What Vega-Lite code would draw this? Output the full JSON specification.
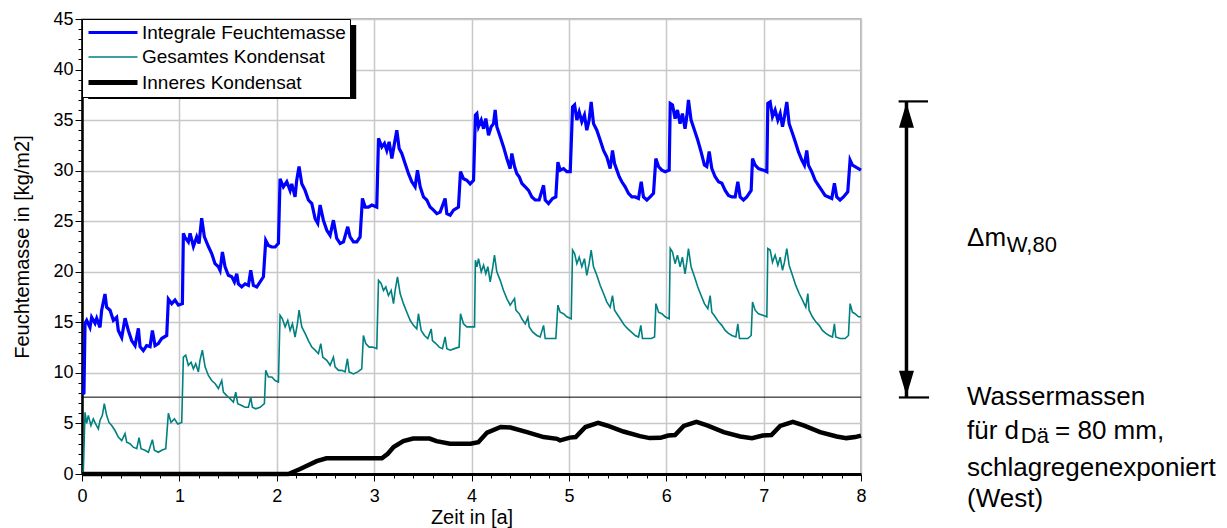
{
  "$schema": "https://vega.github.io/schema/vega-lite/v6.json",
  "width": 779,
  "height": 455,
  "autosize": {"type": "none"},
  "padding": {"left": 82, "top": 19, "right": 366, "bottom": 54},
  "background": "white",
  "datasets": {
    "blue": [
      {"t":0,"m":7.9},{"t":0.02,"m":8.0},{"t":0.031,"m":14.9},{"t":0.048,"m":15.2},{"t":0.082,"m":14.5},{"t":0.099,"m":15.5},{"t":0.134,"m":14.9},{"t":0.151,"m":15.4},{"t":0.185,"m":14.5},{"t":0.202,"m":16.2},{"t":0.236,"m":17.8},{"t":0.253,"m":16.5},{"t":0.288,"m":16.2},{"t":0.322,"m":15.2},{"t":0.356,"m":15.5},{"t":0.373,"m":14.2},{"t":0.408,"m":13.5},{"t":0.442,"m":15.4},{"t":0.476,"m":14.2},{"t":0.51,"m":13.2},{"t":0.545,"m":12.7},{"t":0.579,"m":14.4},{"t":0.596,"m":12.6},{"t":0.63,"m":12.2},{"t":0.664,"m":12.7},{"t":0.699,"m":12.6},{"t":0.723,"m":14.2},{"t":0.75,"m":12.7},{"t":0.784,"m":12.9},{"t":0.818,"m":13.4},{"t":0.87,"m":13.7},{"t":0.887,"m":17.3},{"t":0.921,"m":16.85},{"t":0.955,"m":17.2},{"t":0.99,"m":16.7},{"t":1.031,"m":16.85},{"t":1.041,"m":23.8},
      {"t":1.058,"m":23.4},{"t":1.092,"m":22.95},{"t":1.11,"m":23.8},{"t":1.144,"m":22.5},{"t":1.178,"m":23.45},{"t":1.202,"m":22.8},{"t":1.229,"m":25.3},{"t":1.257,"m":23.45},{"t":1.298,"m":22.5},{"t":1.332,"m":21.8},{"t":1.366,"m":20.8},{"t":1.401,"m":20.5},{"t":1.418,"m":20.15},{"t":1.442,"m":21.95},{"t":1.469,"m":20.5},{"t":1.503,"m":19.65},{"t":1.538,"m":19.5},{"t":1.565,"m":19.0},{"t":1.589,"m":19.8},{"t":1.606,"m":18.8},{"t":1.64,"m":18.5},{"t":1.675,"m":18.8},{"t":1.709,"m":18.65},{"t":1.733,"m":20.15},{"t":1.76,"m":18.65},{"t":1.795,"m":18.5},{"t":1.829,"m":19.0},{"t":1.863,"m":19.5},{"t":1.887,"m":23.1},{"t":1.914,"m":22.6},{"t":1.949,"m":22.45},{"t":1.983,"m":22.45},{"t":2.017,"m":22.8},{"t":2.034,"m":29.2},
      {"t":2.068,"m":28.4},{"t":2.103,"m":28.9},{"t":2.137,"m":28.05},{"t":2.154,"m":28.7},{"t":2.188,"m":27.4},{"t":2.205,"m":29.05},{"t":2.229,"m":30.4},{"t":2.257,"m":28.7},{"t":2.291,"m":28.05},{"t":2.325,"m":27.1},{"t":2.36,"m":26.75},{"t":2.394,"m":25.25},{"t":2.421,"m":24.8},{"t":2.445,"m":26.6},{"t":2.479,"m":25.1},{"t":2.514,"m":24.1},{"t":2.548,"m":23.6},{"t":2.582,"m":25.1},{"t":2.616,"m":23.3},{"t":2.651,"m":22.8},{"t":2.685,"m":22.95},{"t":2.729,"m":24.45},{"t":2.753,"m":23.45},{"t":2.788,"m":22.95},{"t":2.822,"m":22.95},{"t":2.856,"m":23.45},{"t":2.88,"m":27.25},{"t":2.908,"m":26.4},{"t":2.942,"m":26.4},{"t":2.976,"m":26.6},{"t":3.027,"m":26.4},{"t":3.045,"m":33.2},
      {"t":3.079,"m":32.35},{"t":3.106,"m":32.7},{"t":3.13,"m":32.0},{"t":3.154,"m":32.85},{"t":3.182,"m":31.2},{"t":3.209,"m":32.7},{"t":3.233,"m":34.0},{"t":3.257,"m":32.2},{"t":3.284,"m":31.7},{"t":3.318,"m":30.7},{"t":3.353,"m":29.7},{"t":3.387,"m":28.9},{"t":3.421,"m":28.4},{"t":3.445,"m":30.05},{"t":3.473,"m":28.4},{"t":3.507,"m":27.4},{"t":3.541,"m":27.1},{"t":3.575,"m":26.4},{"t":3.61,"m":26.1},{"t":3.644,"m":25.75},{"t":3.678,"m":25.9},{"t":3.729,"m":27.25},{"t":3.747,"m":25.75},{"t":3.781,"m":25.6},{"t":3.815,"m":26.1},{"t":3.866,"m":26.4},{"t":3.887,"m":29.9},{"t":3.918,"m":29.2},{"t":3.952,"m":29.05},{"t":3.986,"m":28.7},{"t":4.021,"m":29.05},{"t":4.04,"m":35.5},
      {"t":4.055,"m":35.65},{"t":4.072,"m":34.35},{"t":4.1,"m":35.0},{"t":4.124,"m":34.15},{"t":4.147,"m":35.15},{"t":4.175,"m":33.5},{"t":4.202,"m":34.35},{"t":4.226,"m":34.65},{"t":4.243,"m":36.0},{"t":4.26,"m":34.35},{"t":4.295,"m":33.35},{"t":4.329,"m":32.35},{"t":4.363,"m":31.2},{"t":4.397,"m":30.2},{"t":4.414,"m":31.7},{"t":4.442,"m":30.4},{"t":4.466,"m":29.7},{"t":4.49,"m":29.4},{"t":4.517,"m":28.75},{"t":4.552,"m":28.4},{"t":4.586,"m":28.05},{"t":4.62,"m":27.4},{"t":4.654,"m":27.1},{"t":4.695,"m":27.1},{"t":4.74,"m":28.55},{"t":4.757,"m":27.1},{"t":4.791,"m":26.75},{"t":4.832,"m":27.25},{"t":4.866,"m":27.4},{"t":4.887,"m":30.85},{"t":4.911,"m":30.05},{"t":4.945,"m":30.2},{"t":4.979,"m":29.9},{"t":5.014,"m":29.9},{"t":5.038,"m":36.3},
      {"t":5.059,"m":36.5},{"t":5.082,"m":35.0},{"t":5.106,"m":35.8},{"t":5.133,"m":34.85},{"t":5.16,"m":35.5},{"t":5.184,"m":34.0},{"t":5.208,"m":35.0},{"t":5.229,"m":36.8},{"t":5.253,"m":34.65},{"t":5.287,"m":34.0},{"t":5.322,"m":33.0},{"t":5.356,"m":32.0},{"t":5.39,"m":31.35},{"t":5.424,"m":30.2},{"t":5.448,"m":32.0},{"t":5.469,"m":30.7},{"t":5.493,"m":30.05},{"t":5.517,"m":29.4},{"t":5.544,"m":28.9},{"t":5.578,"m":28.4},{"t":5.612,"m":27.75},{"t":5.647,"m":27.4},{"t":5.681,"m":27.4},{"t":5.715,"m":27.25},{"t":5.743,"m":28.9},{"t":5.766,"m":27.4},{"t":5.801,"m":27.1},{"t":5.835,"m":27.4},{"t":5.869,"m":27.75},{"t":5.893,"m":31.2},{"t":5.921,"m":30.4},{"t":5.955,"m":30.05},{"t":5.989,"m":29.9},{"t":6.03,"m":30.05},{"t":6.041,"m":36.65},
      {"t":6.064,"m":36.5},{"t":6.091,"m":35.15},{"t":6.115,"m":36.0},{"t":6.142,"m":34.65},{"t":6.166,"m":35.65},{"t":6.193,"m":34.15},{"t":6.211,"m":35.35},{"t":6.228,"m":37.0},{"t":6.255,"m":35.0},{"t":6.29,"m":34.0},{"t":6.324,"m":33.0},{"t":6.358,"m":31.85},{"t":6.392,"m":30.55},{"t":6.416,"m":30.4},{"t":6.441,"m":31.9},{"t":6.468,"m":30.2},{"t":6.502,"m":29.4},{"t":6.537,"m":28.9},{"t":6.571,"m":28.75},{"t":6.605,"m":28.05},{"t":6.639,"m":27.55},{"t":6.674,"m":27.4},{"t":6.708,"m":27.4},{"t":6.735,"m":28.9},{"t":6.759,"m":27.4},{"t":6.793,"m":27.1},{"t":6.827,"m":27.4},{"t":6.872,"m":28.05},{"t":6.886,"m":31.2},{"t":6.913,"m":30.55},{"t":6.947,"m":30.2},{"t":6.999,"m":30.05},{"t":7.033,"m":29.9},{"t":7.043,"m":36.65},
      {"t":7.067,"m":36.8},{"t":7.091,"m":35.35},{"t":7.118,"m":36.0},{"t":7.146,"m":35.0},{"t":7.17,"m":35.65},{"t":7.194,"m":34.35},{"t":7.214,"m":35.35},{"t":7.238,"m":36.8},{"t":7.262,"m":34.65},{"t":7.296,"m":33.7},{"t":7.33,"m":32.7},{"t":7.358,"m":31.85},{"t":7.392,"m":31.05},{"t":7.419,"m":30.55},{"t":7.443,"m":32.0},{"t":7.46,"m":30.55},{"t":7.494,"m":29.9},{"t":7.529,"m":29.05},{"t":7.563,"m":28.55},{"t":7.597,"m":28.05},{"t":7.631,"m":27.55},{"t":7.666,"m":27.4},{"t":7.7,"m":27.25},{"t":7.727,"m":28.75},{"t":7.751,"m":27.4},{"t":7.785,"m":27.1},{"t":7.82,"m":27.4},{"t":7.864,"m":27.9},{"t":7.888,"m":31.05},{"t":7.912,"m":30.55},{"t":7.939,"m":30.4},{"t":7.974,"m":30.2},{"t":8.0,"m":30.05}
    ],
    "teal": [
      {"t":0,"m":0},{"t":0.014,"m":0.35},{"t":0.031,"m":6.1},{"t":0.048,"m":5.0},{"t":0.065,"m":5.8},{"t":0.092,"m":4.8},{"t":0.116,"m":5.45},{"t":0.14,"m":4.95},{"t":0.168,"m":4.45},{"t":0.185,"m":5.3},{"t":0.209,"m":5.8},{"t":0.229,"m":6.95},{"t":0.253,"m":5.8},{"t":0.277,"m":5.1},{"t":0.305,"m":4.8},{"t":0.339,"m":4.3},{"t":0.373,"m":3.65},{"t":0.408,"m":3.3},{"t":0.442,"m":4.0},{"t":0.459,"m":3.15},{"t":0.493,"m":3.0},{"t":0.527,"m":2.65},{"t":0.562,"m":2.5},{"t":0.586,"m":3.6},{"t":0.606,"m":2.5},{"t":0.647,"m":2.35},{"t":0.682,"m":2.15},{"t":0.723,"m":3.4},{"t":0.743,"m":2.35},{"t":0.784,"m":2.15},{"t":0.818,"m":2.35},{"t":0.86,"m":2.5},{"t":0.887,"m":6.0},{"t":0.914,"m":5.1},{"t":0.949,"m":5.45},{"t":0.983,"m":4.95},{"t":1.024,"m":5.1},{"t":1.041,"m":11.55},
      {"t":1.065,"m":11.75},{"t":1.092,"m":10.75},{"t":1.12,"m":11.05},{"t":1.144,"m":10.4},{"t":1.168,"m":10.9},{"t":1.195,"m":10.1},{"t":1.212,"m":11.25},{"t":1.236,"m":12.25},{"t":1.264,"m":10.6},{"t":1.298,"m":9.75},{"t":1.332,"m":9.25},{"t":1.366,"m":8.95},{"t":1.401,"m":8.45},{"t":1.435,"m":9.25},{"t":1.452,"m":8.1},{"t":1.486,"m":7.75},{"t":1.521,"m":7.45},{"t":1.555,"m":7.1},{"t":1.579,"m":8.1},{"t":1.599,"m":6.95},{"t":1.634,"m":6.8},{"t":1.675,"m":6.6},{"t":1.709,"m":6.6},{"t":1.733,"m":7.6},{"t":1.75,"m":6.6},{"t":1.784,"m":6.45},{"t":1.829,"m":6.6},{"t":1.873,"m":6.95},{"t":1.887,"m":10.25},{"t":1.914,"m":9.6},{"t":1.949,"m":9.6},{"t":1.983,"m":9.25},{"t":2.017,"m":9.1},{"t":2.034,"m":15.7},
      {"t":2.058,"m":15.35},{"t":2.086,"m":14.55},{"t":2.113,"m":15.2},{"t":2.137,"m":14.2},{"t":2.161,"m":14.85},{"t":2.188,"m":13.55},{"t":2.212,"m":14.85},{"t":2.229,"m":16.2},{"t":2.257,"m":14.55},{"t":2.291,"m":13.9},{"t":2.325,"m":13.2},{"t":2.36,"m":12.55},{"t":2.394,"m":12.25},{"t":2.428,"m":11.9},{"t":2.452,"m":12.9},{"t":2.473,"m":11.55},{"t":2.514,"m":11.25},{"t":2.548,"m":10.75},{"t":2.582,"m":11.55},{"t":2.599,"m":10.6},{"t":2.634,"m":10.25},{"t":2.668,"m":10.25},{"t":2.702,"m":10.1},{"t":2.726,"m":11.4},{"t":2.743,"m":10.1},{"t":2.788,"m":9.9},{"t":2.832,"m":10.1},{"t":2.873,"m":10.4},{"t":2.89,"m":13.7},{"t":2.914,"m":12.9},{"t":2.949,"m":12.55},{"t":2.983,"m":12.55},{"t":3.027,"m":12.4},{"t":3.045,"m":19.15},
      {"t":3.072,"m":18.85},{"t":3.096,"m":18.15},{"t":3.12,"m":18.5},{"t":3.147,"m":17.65},{"t":3.175,"m":18.15},{"t":3.199,"m":16.85},{"t":3.216,"m":18.15},{"t":3.24,"m":19.5},{"t":3.267,"m":17.85},{"t":3.301,"m":16.85},{"t":3.336,"m":16.0},{"t":3.37,"m":15.2},{"t":3.404,"m":14.7},{"t":3.438,"m":14.35},{"t":3.455,"m":15.85},{"t":3.483,"m":14.2},{"t":3.517,"m":13.7},{"t":3.551,"m":13.4},{"t":3.586,"m":14.35},{"t":3.599,"m":13.2},{"t":3.634,"m":12.9},{"t":3.668,"m":12.55},{"t":3.702,"m":12.4},{"t":3.729,"m":13.55},{"t":3.747,"m":12.4},{"t":3.781,"m":12.25},{"t":3.825,"m":12.4},{"t":3.873,"m":12.55},{"t":3.887,"m":15.85},{"t":3.918,"m":14.85},{"t":3.952,"m":14.55},{"t":3.986,"m":14.55},{"t":4.031,"m":14.55},{"t":4.04,"m":21.15},
      {"t":4.055,"m":20.5},{"t":4.072,"m":21.3},{"t":4.1,"m":20.0},{"t":4.124,"m":20.65},{"t":4.147,"m":19.8},{"t":4.168,"m":20.5},{"t":4.192,"m":19.0},{"t":4.216,"m":20.3},{"t":4.236,"m":21.65},{"t":4.26,"m":20.0},{"t":4.295,"m":19.15},{"t":4.329,"m":18.15},{"t":4.363,"m":17.35},{"t":4.397,"m":16.7},{"t":4.442,"m":17.35},{"t":4.456,"m":16.2},{"t":4.49,"m":15.85},{"t":4.517,"m":15.35},{"t":4.552,"m":14.85},{"t":4.579,"m":15.5},{"t":4.593,"m":14.55},{"t":4.627,"m":14.05},{"t":4.671,"m":13.7},{"t":4.705,"m":13.55},{"t":4.74,"m":14.7},{"t":4.757,"m":13.4},{"t":4.791,"m":13.4},{"t":4.832,"m":13.4},{"t":4.866,"m":13.4},{"t":4.887,"m":16.7},{"t":4.911,"m":16.0},{"t":4.945,"m":15.85},{"t":4.979,"m":15.55},{"t":5.024,"m":15.35},{"t":5.038,"m":22.15},
      {"t":5.059,"m":21.8},{"t":5.082,"m":20.8},{"t":5.106,"m":21.45},{"t":5.133,"m":20.5},{"t":5.16,"m":21.3},{"t":5.184,"m":19.65},{"t":5.208,"m":20.8},{"t":5.229,"m":22.15},{"t":5.253,"m":20.5},{"t":5.287,"m":19.65},{"t":5.322,"m":18.65},{"t":5.356,"m":17.85},{"t":5.39,"m":17.0},{"t":5.424,"m":16.5},{"t":5.448,"m":17.65},{"t":5.469,"m":16.2},{"t":5.503,"m":15.7},{"t":5.537,"m":15.2},{"t":5.571,"m":14.7},{"t":5.606,"m":14.35},{"t":5.64,"m":14.05},{"t":5.681,"m":13.7},{"t":5.715,"m":13.55},{"t":5.739,"m":14.7},{"t":5.756,"m":13.4},{"t":5.801,"m":13.4},{"t":5.846,"m":13.4},{"t":5.88,"m":13.55},{"t":5.894,"m":16.85},{"t":5.921,"m":16.0},{"t":5.955,"m":15.85},{"t":5.989,"m":15.55},{"t":6.03,"m":15.35},{"t":6.041,"m":22.3},
      {"t":6.064,"m":21.95},{"t":6.091,"m":20.8},{"t":6.115,"m":21.65},{"t":6.142,"m":20.5},{"t":6.166,"m":21.45},{"t":6.193,"m":19.8},{"t":6.211,"m":20.95},{"t":6.228,"m":22.3},{"t":6.255,"m":20.5},{"t":6.29,"m":19.5},{"t":6.324,"m":18.5},{"t":6.358,"m":17.65},{"t":6.392,"m":16.85},{"t":6.427,"m":16.35},{"t":6.451,"m":17.65},{"t":6.468,"m":16.0},{"t":6.502,"m":15.55},{"t":6.537,"m":15.05},{"t":6.571,"m":14.7},{"t":6.605,"m":14.2},{"t":6.639,"m":13.9},{"t":6.674,"m":13.7},{"t":6.715,"m":13.55},{"t":6.735,"m":14.85},{"t":6.752,"m":13.4},{"t":6.793,"m":13.4},{"t":6.838,"m":13.4},{"t":6.872,"m":13.7},{"t":6.886,"m":17.0},{"t":6.913,"m":16.2},{"t":6.947,"m":15.85},{"t":6.992,"m":15.7},{"t":7.033,"m":15.55},{"t":7.043,"m":22.3},
      {"t":7.067,"m":22.15},{"t":7.091,"m":20.95},{"t":7.118,"m":21.65},{"t":7.146,"m":20.65},{"t":7.17,"m":21.45},{"t":7.194,"m":20.15},{"t":7.214,"m":20.95},{"t":7.238,"m":22.3},{"t":7.262,"m":20.65},{"t":7.296,"m":19.65},{"t":7.33,"m":18.65},{"t":7.365,"m":17.85},{"t":7.399,"m":17.2},{"t":7.433,"m":16.5},{"t":7.454,"m":17.85},{"t":7.467,"m":16.2},{"t":7.501,"m":15.55},{"t":7.536,"m":15.05},{"t":7.57,"m":14.7},{"t":7.604,"m":14.2},{"t":7.639,"m":13.9},{"t":7.673,"m":13.7},{"t":7.707,"m":13.55},{"t":7.727,"m":14.85},{"t":7.741,"m":13.55},{"t":7.785,"m":13.4},{"t":7.837,"m":13.4},{"t":7.871,"m":13.7},{"t":7.888,"m":16.85},{"t":7.912,"m":16.0},{"t":7.939,"m":15.85},{"t":7.974,"m":15.55},{"t":8.0,"m":15.55}
    ],
    "black": [
      {"t":0,"m":0},{"t":2.12,"m":0},{"t":2.24,"m":0.5},{"t":2.41,"m":1.27},{"t":2.51,"m":1.55},{"t":3.08,"m":1.55},{"t":3.14,"m":2.0},{"t":3.2,"m":2.66},{"t":3.3,"m":3.25},{"t":3.4,"m":3.5},{"t":3.57,"m":3.5},{"t":3.64,"m":3.25},{"t":3.78,"m":3.0},{"t":3.99,"m":3.0},{"t":4.07,"m":3.15},{"t":4.16,"m":4.1},{"t":4.3,"m":4.65},{"t":4.4,"m":4.6},{"t":4.57,"m":4.14},{"t":4.74,"m":3.65},{"t":4.88,"m":3.48},{"t":4.91,"m":3.32},{"t":5.01,"m":3.6},{"t":5.07,"m":3.65},{"t":5.17,"m":4.65},{"t":5.3,"m":5.05},{"t":5.39,"m":4.8},{"t":5.56,"m":4.2},{"t":5.73,"m":3.75},{"t":5.83,"m":3.55},{"t":5.94,"m":3.58},{"t":6.02,"m":3.8},{"t":6.09,"m":3.85},{"t":6.18,"m":4.75},{"t":6.31,"m":5.15},{"t":6.42,"m":4.8},{"t":6.59,"m":4.14},{"t":6.76,"m":3.71},{"t":6.88,"m":3.55},{"t":6.99,"m":3.8},{"t":7.08,"m":3.85},{"t":7.17,"m":4.75},{"t":7.3,"m":5.15},{"t":7.41,"m":4.8},{"t":7.58,"m":4.14},{"t":7.75,"m":3.71},{"t":7.85,"m":3.55},{"t":7.94,"m":3.65},{"t":8.0,"m":3.8}
    ],
    "shadow": [{"x":0.064,"x2":2.816,"y":44.4,"y2":37.08}],
    "level": [{"m":7.6}],
    "shaft": [{"x":8.467,"y":36.85,"y2":7.57}],
    "caps": [{"x":8.386,"x2":8.688,"y":36.85},{"x":8.389,"x2":8.699,"y":7.57}],
    "tipUp": [{"x":8.467,"y":36.72}],
    "tipDown": [{"x":8.467,"y":7.75}],
    "txt": [
      {"label":"Δm","x":9.089,"y":22.55},
      {"label":"Wassermassen","x":9.089,"y":6.78},
      {"label":"für d","x":9.089,"y":3.49},
      {"label":"= 80 mm,","x":9.993,"y":3.49},
      {"label":"schlagregenexponiert","x":9.089,"y":-0.15},
      {"label":"(West)","x":9.089,"y":-3.29}
    ],
    "sub": [
      {"label":"W,80","x":9.497,"y":21.93},
      {"label":"Dä","x":9.641,"y":3.02}
    ]
  },
  "resolve": {"axis": {"x": "independent", "y": "independent"}},
  "layer": [
    {
      "data": {"name": "shadow"},
      "mark": {"type": "rect", "fill": "black", "clip": false},
      "encoding": {
        "x": {"field": "x", "type": "quantitative", "scale": {"domain": [0, 8], "nice": false}, "axis": null},
        "x2": {"field": "x2"},
        "y": {"field": "y", "type": "quantitative", "scale": {"domain": [0, 45], "nice": false}, "axis": null},
        "y2": {"field": "y2"}
      }
    },
    {
      "data": {"name": "level"},
      "mark": {"type": "rule", "color": "black", "strokeWidth": 1},
      "encoding": {
        "y": {"field": "m", "type": "quantitative", "scale": {"domain": [0, 45], "nice": false}, "axis": null}
      }
    },
    {
      "data": {"name": "teal"},
      "mark": {"type": "line", "strokeWidth": 1.6},
      "encoding": {
        "x": {"field": "t", "type": "quantitative", "scale": {"domain": [0, 8], "nice": false},
          "axis": {"orient": "bottom", "values": [0,1,2,3,4,5,6,7,8], "format": "d", "title": "Zeit in [a]", "grid": true, "gridColor": "#c8c8c8", "gridWidth": 1.5, "domainColor": "black", "domainWidth": 3, "tickColor": "black", "tickSize": 7, "tickWidth": 1, "labelFontSize": 18, "labelColor": "black", "labelPadding": 6, "labelFlush": false, "titleFontSize": 20, "titleFontWeight": "normal", "titleColor": "black", "titlePadding": 2}},
        "y": {"field": "m", "type": "quantitative", "scale": {"domain": [0, 45], "nice": false},
          "axis": {"orient": "left", "values": [0,5,10,15,20,25,30,35,40,45], "format": "d", "title": "Feuchtemasse in [kg/m2]", "grid": true, "gridColor": "#c8c8c8", "gridWidth": 1.5, "domainColor": "black", "domainWidth": 2.5, "tickColor": "black", "tickSize": 7, "tickWidth": 1, "labelFontSize": 18, "labelColor": "black", "labelPadding": 2, "titleFontSize": 20, "titleFontWeight": "normal", "titleColor": "black", "titlePadding": 20}},
        "color": {"datum": "Gesamtes Kondensat", "type": "nominal",
          "scale": {"domain": ["Integrale Feuchtemasse", "Gesamtes Kondensat", "Inneres Kondensat"], "range": ["#0000ff", "#008080", "#000000"]},
          "legend": {"orient": "none", "legendX": 0, "legendY": 0, "title": null, "fillColor": "white", "strokeColor": "black", "padding": 4, "symbolType": "M-1,0H6", "symbolSize": 196, "labelOffset": 37, "rowPadding": 4.5, "labelFontSize": 19, "labelColor": "black", "labelLimit": 0,
            "symbolStrokeWidth": {"expr": "datum.value == 'Inneres Kondensat' ? 5 : (datum.value == 'Gesamtes Kondensat' ? 1.5 : 3)"}}}
      }
    },
    {
      "data": {"name": "blue"},
      "mark": {"type": "line", "strokeWidth": 3.2},
      "encoding": {
        "x": {"field": "t", "type": "quantitative", "scale": {"domain": [0, 8], "nice": false},
          "axis": {"orient": "bottom", "values": [0.2,0.4,0.6,0.8,1.2,1.4,1.6,1.8,2.2,2.4,2.6,2.8,3.2,3.4,3.6,3.8,4.2,4.4,4.6,4.8,5.2,5.4,5.6,5.8,6.2,6.4,6.6,6.8,7.2,7.4,7.6,7.8], "labels": false, "grid": false, "domain": false, "tickColor": "black", "tickSize": 4, "title": null}},
        "y": {"field": "m", "type": "quantitative", "scale": {"domain": [0, 45], "nice": false},
          "axis": {"orient": "left", "values": [1,2,3,4,6,7,8,9,11,12,13,14,16,17,18,19,21,22,23,24,26,27,28,29,31,32,33,34,36,37,38,39,41,42,43,44], "labels": false, "grid": false, "domain": false, "tickColor": "black", "tickSize": 4, "title": null}},
        "color": {"datum": "Integrale Feuchtemasse", "type": "nominal"}
      }
    },
    {
      "data": {"name": "black"},
      "mark": {"type": "line", "strokeWidth": 4.5},
      "encoding": {
        "x": {"field": "t", "type": "quantitative", "scale": {"domain": [0, 8], "nice": false}, "axis": null},
        "y": {"field": "m", "type": "quantitative", "scale": {"domain": [0, 45], "nice": false}, "axis": null},
        "color": {"datum": "Inneres Kondensat", "type": "nominal"}
      }
    },
    {
      "data": {"name": "shaft"},
      "mark": {"type": "rule", "color": "black", "strokeWidth": 3.5, "clip": false},
      "encoding": {
        "x": {"field": "x", "type": "quantitative", "axis": null},
        "y": {"field": "y", "type": "quantitative", "axis": null},
        "y2": {"field": "y2"}
      }
    },
    {
      "data": {"name": "caps"},
      "mark": {"type": "rule", "color": "black", "strokeWidth": 2.2, "clip": false},
      "encoding": {
        "x": {"field": "x", "type": "quantitative", "axis": null},
        "x2": {"field": "x2"},
        "y": {"field": "y", "type": "quantitative", "axis": null}
      }
    },
    {
      "data": {"name": "tipUp"},
      "mark": {"type": "point", "shape": "M0,0L0.6,2L-0.6,2Z", "size": 625, "filled": true, "color": "black", "opacity": 1, "clip": false},
      "encoding": {
        "x": {"field": "x", "type": "quantitative", "axis": null},
        "y": {"field": "y", "type": "quantitative", "axis": null}
      }
    },
    {
      "data": {"name": "tipDown"},
      "mark": {"type": "point", "shape": "M0,0L0.6,-2L-0.6,-2Z", "size": 625, "filled": true, "color": "black", "opacity": 1, "clip": false},
      "encoding": {
        "x": {"field": "x", "type": "quantitative", "axis": null},
        "y": {"field": "y", "type": "quantitative", "axis": null}
      }
    },
    {
      "data": {"name": "txt"},
      "mark": {"type": "text", "align": "left", "baseline": "alphabetic", "fontSize": 26, "font": "Liberation Sans", "color": "black", "clip": false},
      "encoding": {
        "x": {"field": "x", "type": "quantitative", "axis": null},
        "y": {"field": "y", "type": "quantitative", "axis": null},
        "text": {"field": "label"}
      }
    },
    {
      "data": {"name": "sub"},
      "mark": {"type": "text", "align": "left", "baseline": "alphabetic", "fontSize": 22, "font": "Liberation Sans", "color": "black", "clip": false},
      "encoding": {
        "x": {"field": "x", "type": "quantitative", "axis": null},
        "y": {"field": "y", "type": "quantitative", "axis": null},
        "text": {"field": "label"}
      }
    }
  ],
  "config": {
    "font": "Liberation Sans",
    "view": {"stroke": "#a0a0a0", "strokeWidth": 1.5},
    "axis": {"labelFont": "Liberation Sans", "titleFont": "Liberation Sans"},
    "legend": {"labelFont": "Liberation Sans"}
  }
}
